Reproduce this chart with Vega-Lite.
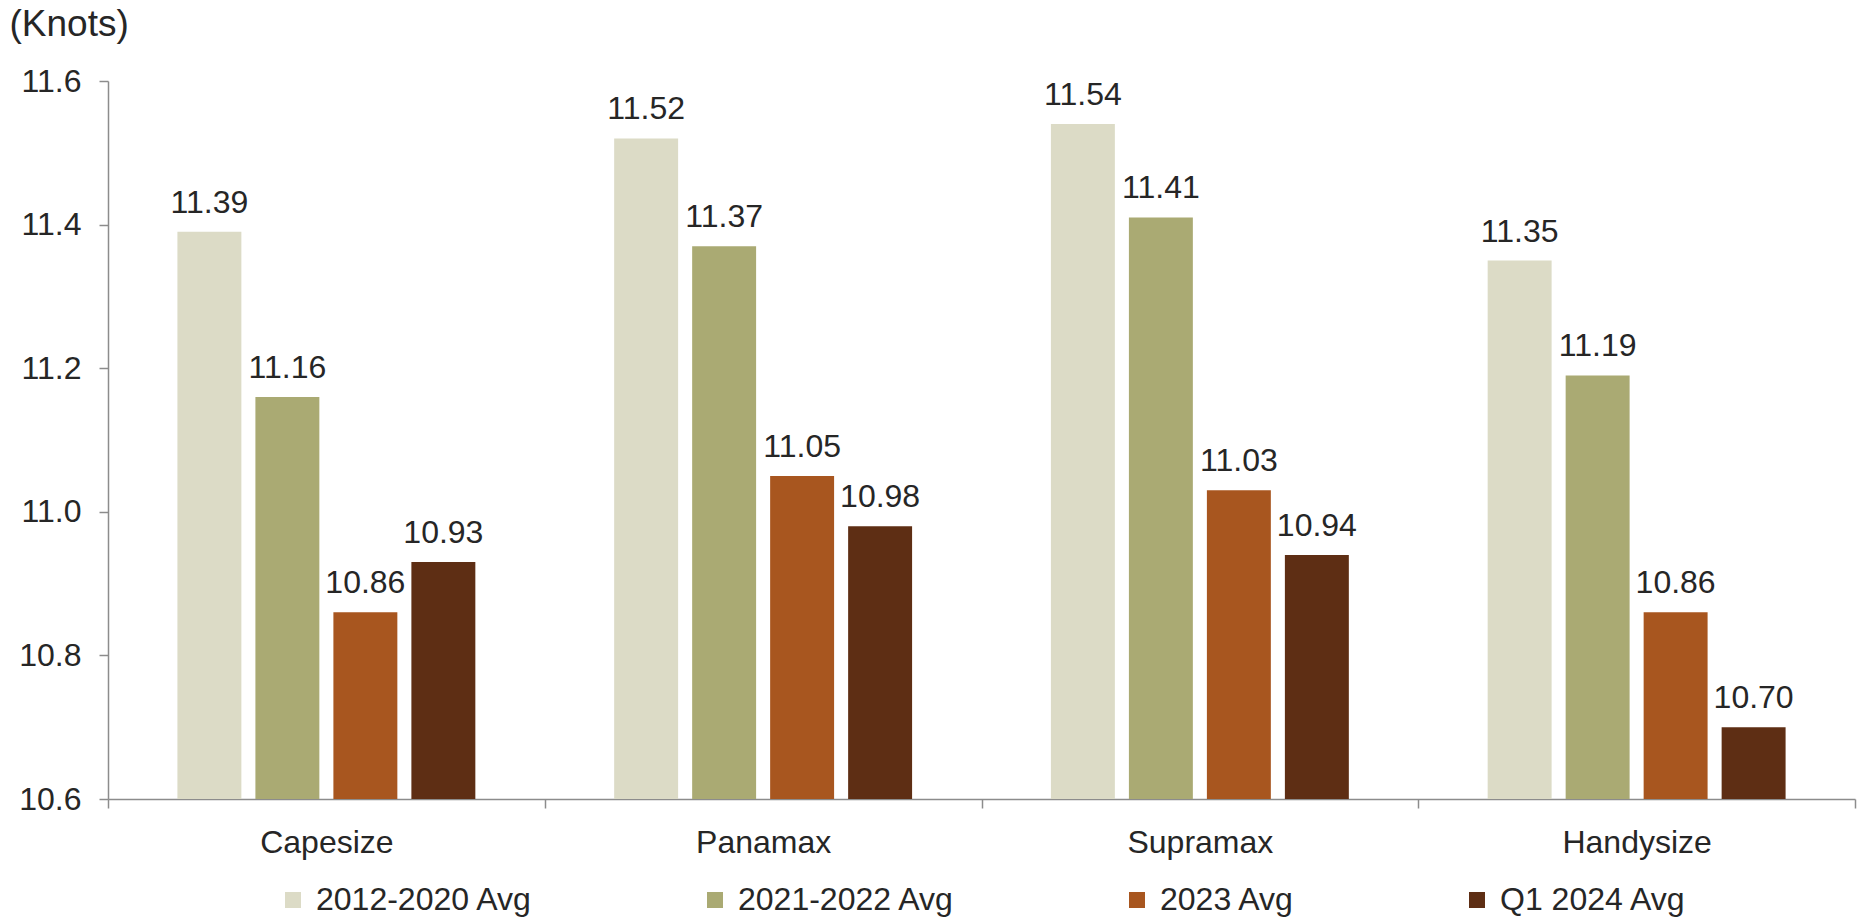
{
  "$schema": "https://vega.github.io/schema/vega-lite/v6.json",
  "autosize": {"type": "none"},
  "width": 1747,
  "height": 718,
  "padding": {"left": 108, "top": 81, "right": 3, "bottom": 118},
  "background": "white",
  "config": {
    "view": {"stroke": null},
    "font": "Liberation Sans",
    "text": {"font": "Liberation Sans"}
  },
  "data": {
    "values": [
      {"type": "Capesize", "series": "2012-2020 Avg", "value": 11.39},
      {"type": "Capesize", "series": "2021-2022 Avg", "value": 11.16},
      {"type": "Capesize", "series": "2023 Avg", "value": 10.86},
      {"type": "Capesize", "series": "Q1 2024 Avg", "value": 10.93},
      {"type": "Panamax", "series": "2012-2020 Avg", "value": 11.52},
      {"type": "Panamax", "series": "2021-2022 Avg", "value": 11.37},
      {"type": "Panamax", "series": "2023 Avg", "value": 11.05},
      {"type": "Panamax", "series": "Q1 2024 Avg", "value": 10.98},
      {"type": "Supramax", "series": "2012-2020 Avg", "value": 11.54},
      {"type": "Supramax", "series": "2021-2022 Avg", "value": 11.41},
      {"type": "Supramax", "series": "2023 Avg", "value": 11.03},
      {"type": "Supramax", "series": "Q1 2024 Avg", "value": 10.94},
      {"type": "Handysize", "series": "2012-2020 Avg", "value": 11.35},
      {"type": "Handysize", "series": "2021-2022 Avg", "value": 11.19},
      {"type": "Handysize", "series": "2023 Avg", "value": 10.86},
      {"type": "Handysize", "series": "Q1 2024 Avg", "value": 10.70}
    ]
  },
  "encoding": {
    "x": {
      "field": "type",
      "type": "nominal",
      "sort": ["Capesize", "Panamax", "Supramax", "Handysize"],
      "scale": {"paddingInner": 0, "paddingOuter": 0},
      "axis": {
        "title": null,
        "labelAngle": 0,
        "labelFontSize": 32,
        "labelColor": "#262626",
        "labelPadding": 19,
        "tickBand": "extent",
        "tickSize": 9,
        "tickColor": "#8c8c8c",
        "tickWidth": 1.5,
        "domainColor": "#8c8c8c",
        "domainWidth": 1.5
      }
    },
    "xOffset": {
      "field": "series",
      "type": "nominal",
      "sort": ["2012-2020 Avg", "2021-2022 Avg", "2023 Avg", "Q1 2024 Avg"],
      "scale": {"paddingInner": 0.18, "paddingOuter": 0.89}
    },
    "y": {
      "field": "value",
      "type": "quantitative",
      "scale": {"domain": [10.6, 11.6], "zero": false, "nice": false},
      "axis": {
        "values": [10.6, 10.8, 11.0, 11.2, 11.4, 11.6],
        "format": ".1f",
        "grid": false,
        "labelFontSize": 32,
        "labelColor": "#262626",
        "labelPadding": 18,
        "tickSize": 9,
        "tickColor": "#8c8c8c",
        "tickWidth": 1.5,
        "domainColor": "#8c8c8c",
        "domainWidth": 1.5,
        "title": "(Knots)",
        "titleAngle": 0,
        "titleX": -99,
        "titleY": -46,
        "titleAlign": "left",
        "titleBaseline": "alphabetic",
        "titleFontSize": 37,
        "titleFontWeight": "normal",
        "titleColor": "#262626"
      }
    }
  },
  "layer": [
    {
      "mark": {"type": "bar"},
      "encoding": {
        "y2": {"datum": 10.6},
        "color": {
          "field": "series",
          "type": "nominal",
          "scale": {
            "domain": ["2012-2020 Avg", "2021-2022 Avg", "2023 Avg", "Q1 2024 Avg"],
            "range": ["#DCDBC6", "#AAAA73", "#A8561F", "#5E2E14"]
          },
          "legend": {
            "title": null,
            "orient": "none",
            "legendX": 169,
            "legendY": 803,
            "direction": "horizontal",
            "labelFontSize": 32,
            "labelColor": "#262626",
            "labelLimit": 500,
            "symbolType": "square",
            "symbolSize": 256,
            "symbolStrokeWidth": 0,
            "labelOffset": 7,
            "columnPadding": 166
          }
        }
      }
    },
    {
      "mark": {"type": "text", "baseline": "alphabetic", "dy": -19, "fontSize": 32, "color": "#262626"},
      "encoding": {
        "text": {"field": "value", "type": "quantitative", "format": ".2f"}
      }
    }
  ]
}
